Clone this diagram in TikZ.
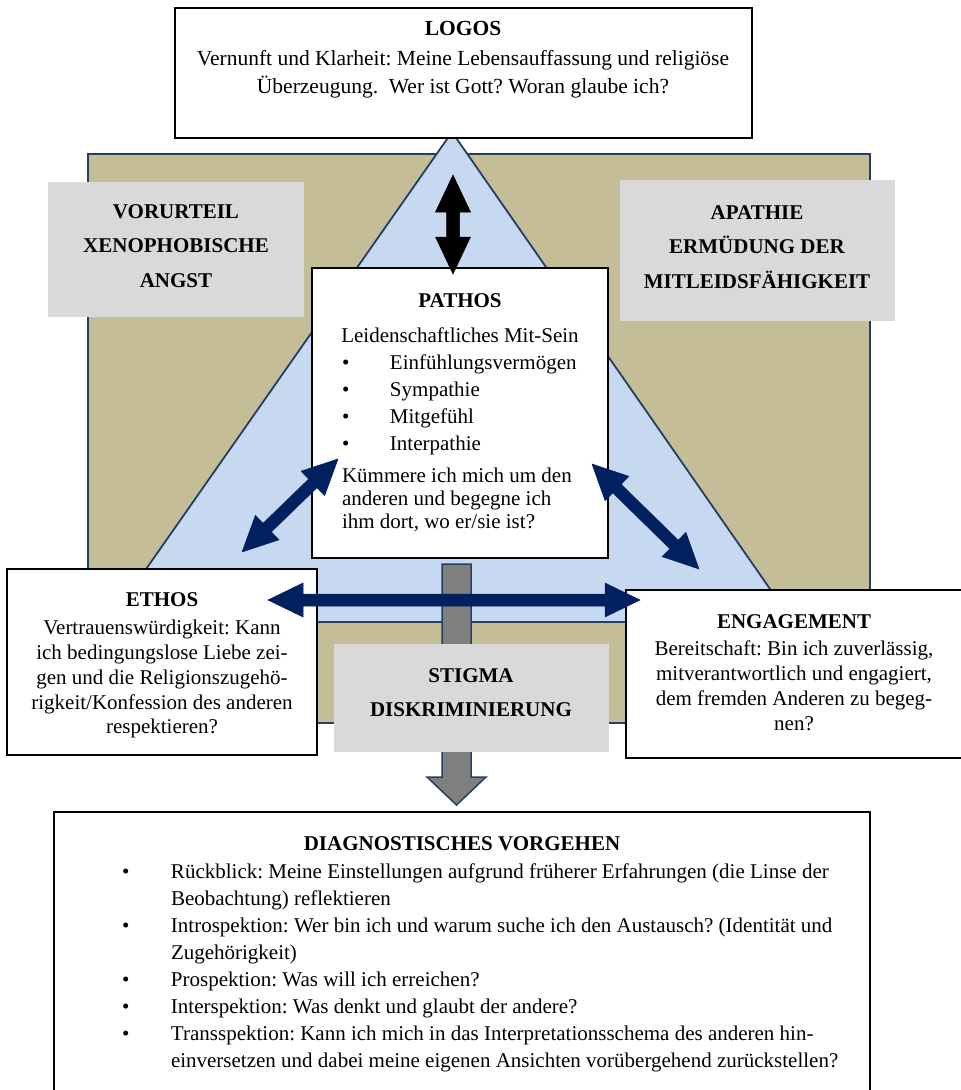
\documentclass[tikz,border=0pt]{standalone}
\usepackage{fontspec}
\setmainfont{Liberation Serif}
\usetikzlibrary{calc}
\definecolor{tanbg}{HTML}{C4BD97}
\definecolor{lblue}{HTML}{C6D9F1}
\definecolor{outl}{HTML}{243F60}
\definecolor{navy}{HTML}{002060}
\definecolor{garrow}{HTML}{7F7F7F}
\definecolor{gbox}{HTML}{D9D9D9}

% double-headed block arrow: #1 from, #2 to, #3 shaft half width, #4 head half width, #5 head length, #6 style
\newcommand\dblblockarrow[6]{%
  \path let \p1=($(#2)-(#1)$) in \pgfextra{\pgfmathsetmacro\baang{atan2(\y1,\x1)}\pgfmathsetmacro\balen{veclen(\x1,\y1)}\xdef\gang{\baang}\xdef\glen{\balen}};
  \begin{scope}[shift={(#1)},rotate=\gang]
    \filldraw[#6] (0,0) -- (#5,#4) -- (#5,#3) -- ({\glen-#5},#3) -- ({\glen-#5},#4) -- (\glen,0) -- ({\glen-#5},-#4) -- ({\glen-#5},-#3) -- (#5,-#3) -- (#5,-#4) -- cycle;
  \end{scope}}
% single-headed block arrow
\newcommand\sglblockarrow[6]{%
  \path let \p1=($(#2)-(#1)$) in \pgfextra{\pgfmathsetmacro\baang{atan2(\y1,\x1)}\pgfmathsetmacro\balen{veclen(\x1,\y1)}\xdef\gang{\baang}\xdef\glen{\balen}};
  \begin{scope}[shift={(#1)},rotate=\gang]
    \filldraw[#6] (0,-#3) -- ({\glen-#5},-#3) -- ({\glen-#5},-#4) -- (\glen,0) -- ({\glen-#5},#4) -- ({\glen-#5},#3) -- (0,#3) -- cycle;
  \end{scope}}
\newcommand\diagbul{\makebox[49pt][l]{\textbullet}}
\newcommand\diagind{\makebox[49pt]{}}
\newcommand\pbul{\makebox[48pt][l]{\textbullet}}

\tikzset{
  box/.style={draw=black, line width=1.6pt, fill=white, inner sep=0pt, outer sep=0pt},
  graybox/.style={fill=gbox, inner sep=0pt, outer sep=0pt},
  txt/.style={inner sep=0pt, outer sep=0pt, align=center},
  navyarrow/.style={fill=navy, draw=navy, line width=0.5pt},
  blackarrow/.style={fill=black, draw=black, line width=0.5pt},
  grayarrow/.style={fill=garrow, draw=outl, line width=1.5pt},
}

\begin{document}
\frenchspacing
\begin{tikzpicture}[x=1pt,y=-1pt]
\useasboundingbox (0,0) rectangle (961,1090);

% background
\draw[fill=tanbg, draw=outl, line width=1.8pt] (88,154) rectangle (870,723);
\draw[fill=lblue, draw=outl, line width=1.8pt] (452,132) -- (109,622) -- (793,622) -- cycle;

% gray label boxes
\node[graybox, minimum width=256pt, minimum height=135pt] (vorurteil) at (176,249.5) {};
\node[txt, anchor=north, font=\bfseries\fontsize{21}{34.5}\selectfont] (vortxt) at (176,193.85) {\strut VORURTEIL\\XENOPHOBISCHE\\ANGST};
\node[graybox, minimum width=275pt, minimum height=141pt] (apathie) at (757.5,250.5) {};
\node[txt, anchor=north, font=\bfseries\fontsize{21}{34.5}\selectfont] (apatxt) at (757,194.85) {\strut APATHIE\\ERMÜDUNG DER\\MITLEIDSFÄHIGKEIT};

% LOGOS
\node[box, minimum width=577pt, minimum height=130pt] (logos) at (463.5,73) {};
\node[txt, anchor=north, font=\fontsize{21.5}{28}\selectfont] (logostxt) at (463,15.4) {\textbf{\strut LOGOS}\\[2pt]Vernunft und Klarheit: Meine Lebensauffassung und religiöse\\Überzeugung.\ \ Wer ist Gott? Woran glaube ich?};

% PATHOS
\node[box, minimum width=296pt, minimum height=290pt] (pathos) at (460,413) {};
\node[txt, anchor=north, font=\fontsize{21}{35}\selectfont] (pathostitle) at (460,282.5) {\textbf{\strut PATHOS}\\Leidenschaftliches Mit-Sein};
\node[txt, align=left, anchor=north west, font=\fontsize{21}{26.7}\selectfont] (pathosbul) at (342,351.3) {\strut\pbul Einfühlungsvermögen\\\pbul Sympathie\\\pbul Mitgefühl\\\pbul Interpathie};
\node[txt, align=left, anchor=north west, font=\fontsize{21}{23}\selectfont] (pathospar) at (342,465.9) {\strut Kümmere ich mich um den\\anderen und begegne ich\\ihm dort, wo er/sie ist?};

% ETHOS
\node[box, minimum width=310pt, minimum height=186pt] (ethos) at (162,662) {};
\node[txt, anchor=north, font=\fontsize{21}{24.8}\selectfont] (ethostxt) at (162,589.6) {\textbf{\strut ETHOS}\\[3pt]Vertrauenswürdigkeit: Kann\\ich bedingungslose Liebe zei-\\gen und die Religionszugehö-\\rigkeit/Konfession des anderen\\respektieren?};

% ENGAGEMENT
\node[box, minimum width=340pt, minimum height=168pt] (engagement) at (796,674) {};
\node[txt, anchor=north, font=\fontsize{21}{25}\selectfont] (engtxt) at (794,610.5) {\textbf{\strut ENGAGEMENT}\\[2pt]Bereitschaft: Bin ich zuverlässig,\\mitverantwortlich und engagiert,\\dem fremden Anderen zu begeg-\\nen?};

% gray arrow down
\coordinate (gA) at (456.5,564);
\coordinate (gB) at (456.5,805);
\sglblockarrow{gA}{gB}{14.5}{29.5}{28}{grayarrow}

% STIGMA
\node[graybox, minimum width=275pt, minimum height=108pt] (stigma) at (471.5,698) {};
\node[txt, anchor=north, font=\bfseries\fontsize{21}{34}\selectfont] (stigtxt) at (471,658.2) {\strut STIGMA\\DISKRIMINIERUNG};

% DIAGNOSTISCHES VORGEHEN
\node[box, minimum width=816pt, minimum height=288pt] (diag) at (462,956) {};
\node[txt, anchor=north, font=\bfseries\fontsize{21}{28}\selectfont] (diagtitle) at (462,830.4) {\strut DIAGNOSTISCHES VORGEHEN};
\node[txt, align=left, anchor=north west, font=\fontsize{21}{27}\selectfont] (diagitems) at (122,859.1) {\strut\diagbul Rückblick: Meine Einstellungen aufgrund früherer Erfahrungen (die Linse der\\
\diagind Beobachtung) reflektieren\\
\diagbul Introspektion: Wer bin ich und warum suche ich den Austausch? (Identität und\\
\diagind Zugehörigkeit)\\
\diagbul Prospektion: Was will ich erreichen?\\
\diagbul Interspektion: Was denkt und glaubt der andere?\\
\diagbul Transspektion: Kann ich mich in das Interpretationsschema des anderen hin-\\
\diagind einversetzen und dabei meine eigenen Ansichten vorübergehend zurückstellen?};

% arrows
\coordinate (bA) at (453,175);
\coordinate (bB) at (453,274);
\dblblockarrow{bA}{bB}{6.5}{17.5}{37}{blackarrow}
\coordinate (hA) at (268,600);
\coordinate (hB) at (640,600);
\dblblockarrow{hA}{hB}{6}{17}{35}{navyarrow}
\coordinate (lA) at (338,459);
\coordinate (lB) at (242,552);
\dblblockarrow{lA}{lB}{6}{17}{35}{navyarrow}
\coordinate (rA) at (592,464);
\coordinate (rB) at (699,569);
\dblblockarrow{rA}{rB}{6}{17}{35}{navyarrow}
\end{tikzpicture}
\end{document}
